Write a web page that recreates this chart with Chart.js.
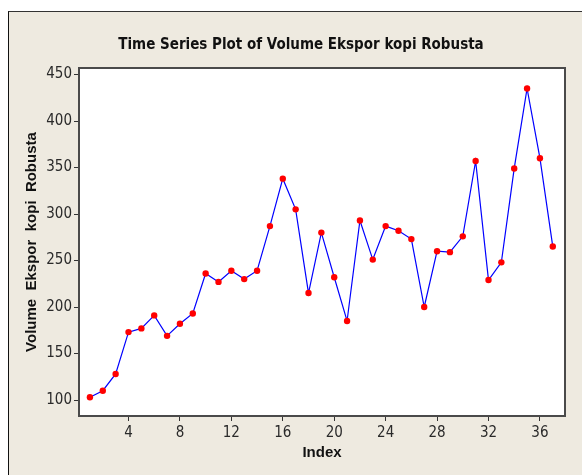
<!DOCTYPE html>
<html>
<head>
<meta charset="utf-8">
<script src="https://cdn.jsdelivr.net/npm/chart.js@4/dist/chart.umd.min.js"></script>
<style>
    html, body { margin: 0; padding: 0; background: #fff; }
    #frame {
        position: absolute; left: 8px; top: 11px; right: 0; bottom: 0;
        background: #EEEAE0;
        border-left: 1px solid #111;
        border-top: 1px solid #333;
    }
    #wrap { position: absolute; left: 0; top: 0; width: 582px; height: 475px; }
</style>
</head>
<body>
<div id="frame"></div>
<div id="wrap"><canvas id="tsChart" width="582" height="475"></canvas></div>
<script>
// ──────────────────────────────────────
// Data
// ──────────────────────────────────────

const indexLabels = [1, 2, 3, 4, 5, 6, 7, 8, 9, 10, 11, 12, 13, 14, 15, 16, 17, 18, 19,
    20, 21, 22, 23, 24, 25, 26, 27, 28, 29, 30, 31, 32, 33, 34, 35, 36, 37];

const volumeValues = [103, 110, 128, 173, 177, 191, 169, 182, 193, 236, 227, 239, 230, 239,
    287, 338, 305, 215, 280, 232, 185, 293, 251, 287, 282, 273, 200, 260, 259, 276,
    357, 229, 248, 349, 435, 360, 265];

const xTickValues = [4, 8, 12, 16, 20, 24, 28, 32, 36];
const yTickValues = [100, 150, 200, 250, 300, 350, 400, 450];

const chartTitle = 'Time Series Plot of Volume Ekspor kopi Robusta';

const FONT = "'Liberation Sans Narrow', 'Arial Narrow', 'DejaVu Sans Condensed', sans-serif";
const TEXT = '#2a2a2a';

// plot box: white fill + dark frame, plus the title (Minitab puts it left of plot centre)
const plotFrame = {
    id: 'plotFrame',
    beforeDatasetsDraw(chart) {
        const { ctx, chartArea: a } = chart;
        ctx.save();
        ctx.fillStyle = '#ffffff';
        ctx.fillRect(a.left, a.top, a.right - a.left, a.bottom - a.top);
        ctx.restore();
    },
    afterDatasetsDraw(chart) {
        const { ctx, chartArea: a } = chart;
        ctx.save();
        ctx.strokeStyle = '#4a4a4a';
        ctx.lineWidth = 2;
        ctx.strokeRect(a.left, a.top, a.right - a.left, a.bottom - a.top);
        ctx.restore();
    },
    afterDraw(chart) {
        const { ctx } = chart;
        ctx.save();
        ctx.fillStyle = '#111';
        ctx.font = "bold 15px 'Liberation Sans Narrow', 'DejaVu Sans Condensed', sans-serif";
        ctx.textAlign = 'center';
        ctx.textBaseline = 'middle';
        ctx.fillText(chartTitle, 301, 45);
        ctx.restore();
    }
};

new Chart(document.getElementById('tsChart'), {
    type: 'line',
    data: {
        datasets: [{
            label: 'Volume Ekspor kopi Robusta',
            data: indexLabels.map((x, i) => ({ x: x, y: volumeValues[i] })),
            borderColor: '#0000ff',
            borderWidth: 1.2,
            backgroundColor: '#ff0000',
            pointBackgroundColor: '#ff0000',
            pointBorderWidth: 0,
            pointRadius: 3.2,
            tension: 0,
            fill: false,
        }]
    },
    options: {
        responsive: false,
        animation: false,
        layout: { padding: { left: 0, right: 17, top: 68, bottom: 0 } },
        plugins: {
            legend: { display: false },
            tooltip: { enabled: false },
            title: { display: false },
        },
        scales: {
            x: {
                type: 'linear',
                min: 0.15,
                max: 37.95,
                afterFit(scale) { scale.height = 59; },
                afterBuildTicks(scale) { scale.ticks = xTickValues.map(v => ({ value: v })); },
                grid: { drawOnChartArea: false, drawTicks: true, tickLength: 5, color: '#333', lineWidth: 1 },
                border: { display: false },
                ticks: {
                    autoSkip: false,
                    maxRotation: 0,
                    padding: 3,
                    color: TEXT,
                    font: { size: 15, family: FONT },
                },
                title: {
                    display: true,
                    text: 'Index',
                    color: '#111',
                    font: { size: 15, weight: 'bold', family: "'Liberation Sans', Arial, sans-serif" },
                    padding: { top: 0, bottom: 13 },
                }
            },
            y: {
                min: 82.8,
                max: 457,
                afterFit(scale) { scale.width = 79; },
                afterBuildTicks(scale) { scale.ticks = yTickValues.map(v => ({ value: v })); },
                grid: { drawOnChartArea: false, drawTicks: true, tickLength: 5, color: '#333', lineWidth: 1 },
                border: { display: false },
                ticks: {
                    padding: 2,
                    color: TEXT,
                    font: { size: 15, family: FONT },
                },
                title: {
                    display: true,
                    text: 'Volume  Ekspor  kopi  Robusta',
                    color: '#111',
                    font: { size: 15, weight: 'bold', family: "'Liberation Sans', Arial, sans-serif", lineHeight: 1.2 },
                    padding: { top: 23, bottom: 0 },
                }
            }
        }
    },
    plugins: [plotFrame]
});
</script>
</body>
</html>
